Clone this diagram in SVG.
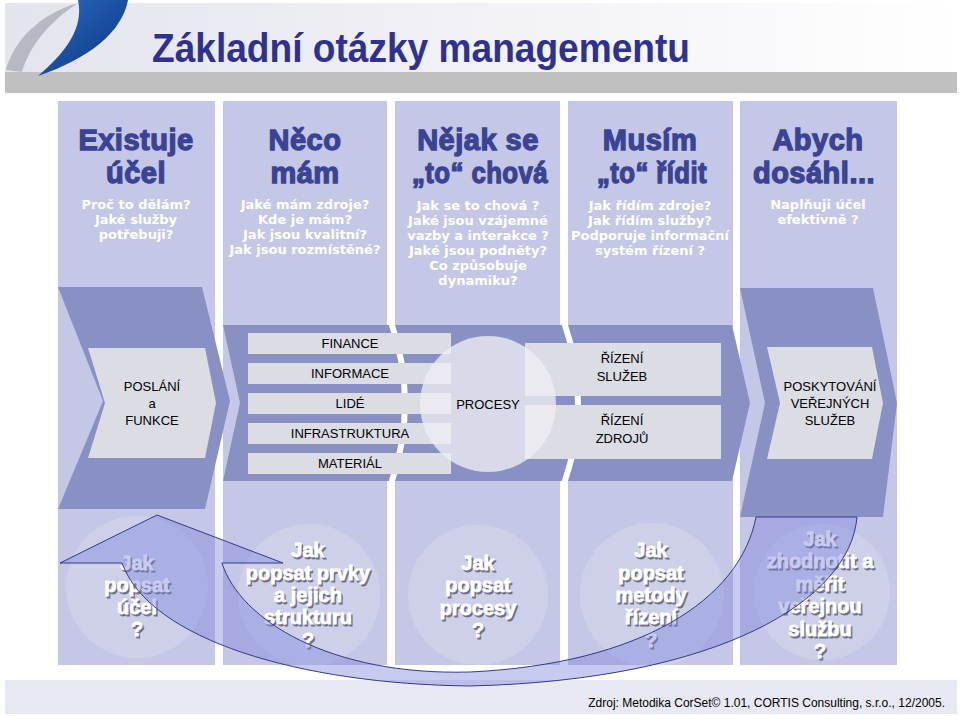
<svg xmlns="http://www.w3.org/2000/svg" width="960" height="716" viewBox="0 0 960 716">
<defs>
<linearGradient id="hdr" x1="0" y1="0" x2="1" y2="0">
<stop offset="0" stop-color="#e4e4ee"/><stop offset="1" stop-color="#ffffff"/>
</linearGradient>
<linearGradient id="logoBlue" x1="0" y1="0" x2="1" y2="1">
<stop offset="0" stop-color="#2a6fc0"/><stop offset="1" stop-color="#0d2f80"/>
</linearGradient>
<style>
.col{fill:#c5c7e6}
.dark{fill:#8890c4}
.inner{fill:#dcdce5}
.head{font-family:"Liberation Sans",Arial,sans-serif;font-weight:bold;font-size:29px;letter-spacing:0.5px;fill:#3a4396;stroke:#3a4396;stroke-width:1.3;text-anchor:middle}
.q{font-family:"DejaVu Sans",Verdana,sans-serif;font-weight:bold;font-size:13px;fill:#ffffff;text-anchor:middle}
.lbl{font-family:"Liberation Sans",Arial,sans-serif;font-size:13px;fill:#000000;text-anchor:middle}
.big{font-family:"Liberation Sans",Arial,sans-serif;font-weight:bold;font-size:20px;text-anchor:middle;stroke-width:0.8}
.sh{fill:#6e6e84;stroke:#6e6e84}
.wt{fill:#ffffff;stroke:#ffffff}
.bc{fill:#ffffff;fill-opacity:0.16}
</style>
</defs>
<rect width="960" height="716" fill="#ffffff"/>
<g id="header">
<rect x="5" y="3" width="952" height="70" fill="url(#hdr)"/>
<rect x="5" y="72" width="952" height="21" fill="#c0c0c0"/>
<path d="M6,70 C14,40 40,14 78,3 C52,20 30,44 22,72 Z" fill="#b8b8c2"/>
<path d="M78,0 L128,0 C122,32 90,58 38,76 C66,52 84,28 78,0 Z" fill="url(#logoBlue)"/>
<text x="152" y="62" font-family="'Liberation Sans',Arial,sans-serif" font-weight="bold" font-size="41" fill="#2e3192" textLength="538" lengthAdjust="spacingAndGlyphs">Základní otázky managementu</text>
</g>
<g id="columns">
<rect class="col" x="58" y="101" width="157" height="564"/>
<rect class="col" x="223" y="101" width="164" height="564"/>
<rect class="col" x="395" y="101" width="165" height="564"/>
<rect class="col" x="568" y="101" width="165" height="564"/>
<rect class="col" x="740" y="101" width="157" height="564"/>
</g>
<g id="col1-head">
<text class="head" x="136" y="150">Existuje</text>
<text class="head" x="136" y="183">účel</text>
<text class="q" x="136" y="209">Proč to dělám?</text>
<text class="q" x="136" y="224">Jaké služby</text>
<text class="q" x="136" y="239">potřebuji?</text>
</g>
<g id="col2-head">
<text class="head" x="305" y="150">Něco</text>
<text class="head" x="305" y="183">mám</text>
<text class="q" x="305" y="209">Jaké mám zdroje?</text>
<text class="q" x="305" y="224">Kde je mám?</text>
<text class="q" x="305" y="239">Jak jsou kvalitní?</text>
<text class="q" x="305" y="254">Jak jsou rozmístěné?</text>
</g>
<g id="col3-head">
<text class="head" x="478" y="150">Nějak se</text>
<text class="head" x="480" y="183" textLength="136" lengthAdjust="spacingAndGlyphs">„to“ chová</text>
<text class="q" x="478" y="210">Jak se to chová ?</text>
<text class="q" x="478" y="225">Jaké jsou vzájemné</text>
<text class="q" x="478" y="240">vazby a interakce ?</text>
<text class="q" x="478" y="255">Jaké jsou podněty?</text>
<text class="q" x="478" y="270">Co způsobuje</text>
<text class="q" x="478" y="285">dynamiku?</text>
</g>
<g id="col4-head">
<text class="head" x="650" y="150">Musím</text>
<text class="head" x="652" y="183" textLength="110" lengthAdjust="spacingAndGlyphs">„to“ řídit</text>
<text class="q" x="650" y="210">Jak řídím zdroje?</text>
<text class="q" x="650" y="225">Jak řídím služby?</text>
<text class="q" x="650" y="240">Podporuje informační</text>
<text class="q" x="650" y="255">systém řízení ?</text>
</g>
<g id="col5-head">
<text class="head" x="818" y="150">Abych</text>
<text class="head" x="814" y="183">dosáhl...</text>
<text class="q" x="818" y="209">Naplňuji účel</text>
<text class="q" x="818" y="224">efektivně ?</text>
</g>
<g id="poslani">
<polygon class="dark" points="58,287 202,287 230,401 205,509 58,509 103,401"/>
<polygon class="inner" points="88,348 205,348 216,403 205,458 88,458 105,403"/>
<text class="lbl" x="152" y="391">POSLÁNÍ</text>
<text class="lbl" x="152" y="408">a</text>
<text class="lbl" x="152" y="425">FUNKCE</text>
</g>
<g id="middle-band">
<polygon class="dark" points="223,325 732,325 750,403 732,481 223,481 240,403"/>
<path d="M391,322 Q419,403 391,484" fill="none" stroke="#ffffff" stroke-width="6"/>
<path d="M564,322 Q592,403 564,484" fill="none" stroke="#ffffff" stroke-width="6"/>
</g>
<g id="resources">
<rect class="inner" x="248" y="333" width="203" height="21"/>
<rect class="inner" x="248" y="363" width="203" height="21"/>
<rect class="inner" x="248" y="393" width="203" height="21"/>
<rect class="inner" x="248" y="423" width="203" height="21"/>
<rect class="inner" x="248" y="453" width="203" height="21"/>
<text class="lbl" x="350" y="348">FINANCE</text>
<text class="lbl" x="350" y="378">INFORMACE</text>
<text class="lbl" x="350" y="408">LIDÉ</text>
<text class="lbl" x="350" y="438">INFRASTRUKTURA</text>
<text class="lbl" x="350" y="468">MATERIÁL</text>
</g>
<g id="rizeni">
<rect class="inner" x="525" y="343" width="196" height="53"/>
<rect class="inner" x="525" y="405" width="196" height="54"/>
<text class="lbl" x="622" y="363">ŘÍZENÍ</text>
<text class="lbl" x="622" y="381">SLUŽEB</text>
<text class="lbl" x="622" y="425">ŘÍZENÍ</text>
<text class="lbl" x="622" y="443">ZDROJŮ</text>
</g>
<g id="procesy">
<circle cx="488" cy="404" r="68" fill="#eeeef3" fill-opacity="0.78"/>
<text class="lbl" x="488" y="409">PROCESY</text>
</g>
<g id="poskytovani">
<polygon class="dark" points="740,288 873,288 897,403 883,517 740,517 765,403"/>
<polygon class="inner" points="767,347 872,347 883,403 872,459 767,459 780,403"/>
<text class="lbl" x="830" y="391">POSKYTOVÁNÍ</text>
<text class="lbl" x="830" y="408">VEŘEJNÝCH</text>
<text class="lbl" x="830" y="425">SLUŽEB</text>
</g>
<g id="q1">
<circle class="bc" cx="137" cy="587" r="71"/>
<g class="big sh" transform="translate(1.5,1.5)">
<text x="137" y="570">Jak</text><text x="137" y="592">popsat</text><text x="137" y="614">účel</text><text x="137" y="636">?</text>
</g>
<g class="big wt">
<text x="137" y="570">Jak</text><text x="137" y="592">popsat</text><text x="137" y="614">účel</text><text x="137" y="636">?</text>
</g>
</g>
<g id="q2">
<circle class="bc" cx="309" cy="595" r="71"/>
<g class="big sh" transform="translate(1.5,1.5)">
<text x="308" y="557">Jak</text><text x="308" y="580">popsat prvky</text><text x="308" y="602">a jejich</text><text x="308" y="624">strukturu</text><text x="308" y="647">?</text>
</g>
<g class="big wt">
<text x="308" y="557">Jak</text><text x="308" y="580">popsat prvky</text><text x="308" y="602">a jejich</text><text x="308" y="624">strukturu</text><text x="308" y="647">?</text>
</g>
</g>
<g id="q3">
<circle class="bc" cx="478" cy="595" r="70"/>
<g class="big sh" transform="translate(1.5,1.5)">
<text x="478" y="570">Jak</text><text x="478" y="592">popsat</text><text x="478" y="615">procesy</text><text x="478" y="637">?</text>
</g>
<g class="big wt">
<text x="478" y="570">Jak</text><text x="478" y="592">popsat</text><text x="478" y="615">procesy</text><text x="478" y="637">?</text>
</g>
</g>
<g id="q4">
<circle class="bc" cx="652" cy="595" r="72"/>
<g class="big sh" transform="translate(1.5,1.5)">
<text x="651" y="557">Jak</text><text x="651" y="580">popsat</text><text x="651" y="602">metody</text><text x="651" y="624">řízení</text><text x="651" y="647">?</text>
</g>
<g class="big wt">
<text x="651" y="557">Jak</text><text x="651" y="580">popsat</text><text x="651" y="602">metody</text><text x="651" y="624">řízení</text><text x="651" y="647">?</text>
</g>
</g>
<g id="q5">
<circle class="bc" cx="822" cy="592" r="68"/>
<g class="big sh" transform="translate(1.5,1.5)">
<text x="820" y="546">Jak</text><text x="820" y="568">zhodnotit a</text><text x="820" y="591">měřit</text><text x="820" y="613">veřejnou</text><text x="820" y="636">službu</text><text x="820" y="658">?</text>
</g>
<g class="big wt">
<text x="820" y="546">Jak</text><text x="820" y="568">zhodnotit a</text><text x="820" y="591">měřit</text><text x="820" y="613">veřejnou</text><text x="820" y="636">službu</text><text x="820" y="658">?</text>
</g>
</g>
<g id="footer">
<rect x="5" y="680" width="952" height="34" fill="#e9e9f3"/>
<text x="945" y="707" font-family="'Liberation Sans',Arial,sans-serif" font-size="12" fill="#000000" text-anchor="end">Zdroj: Metodika CorSet© 1.01, CORTIS Consulting, s.r.o., 12/2005.</text>
</g>
<g id="connectors">
<path d="M857,517 C850,600 720,680 470,686 C300,684 150,640 122,563 L60,563 L157,515 L283,563 L222,563 C240,620 330,676 470,672 C640,664 740,600 756,517 Z" fill="#7d82dc" fill-opacity="0.42" stroke="#34398a" stroke-width="1"/>
</g>
</svg>
